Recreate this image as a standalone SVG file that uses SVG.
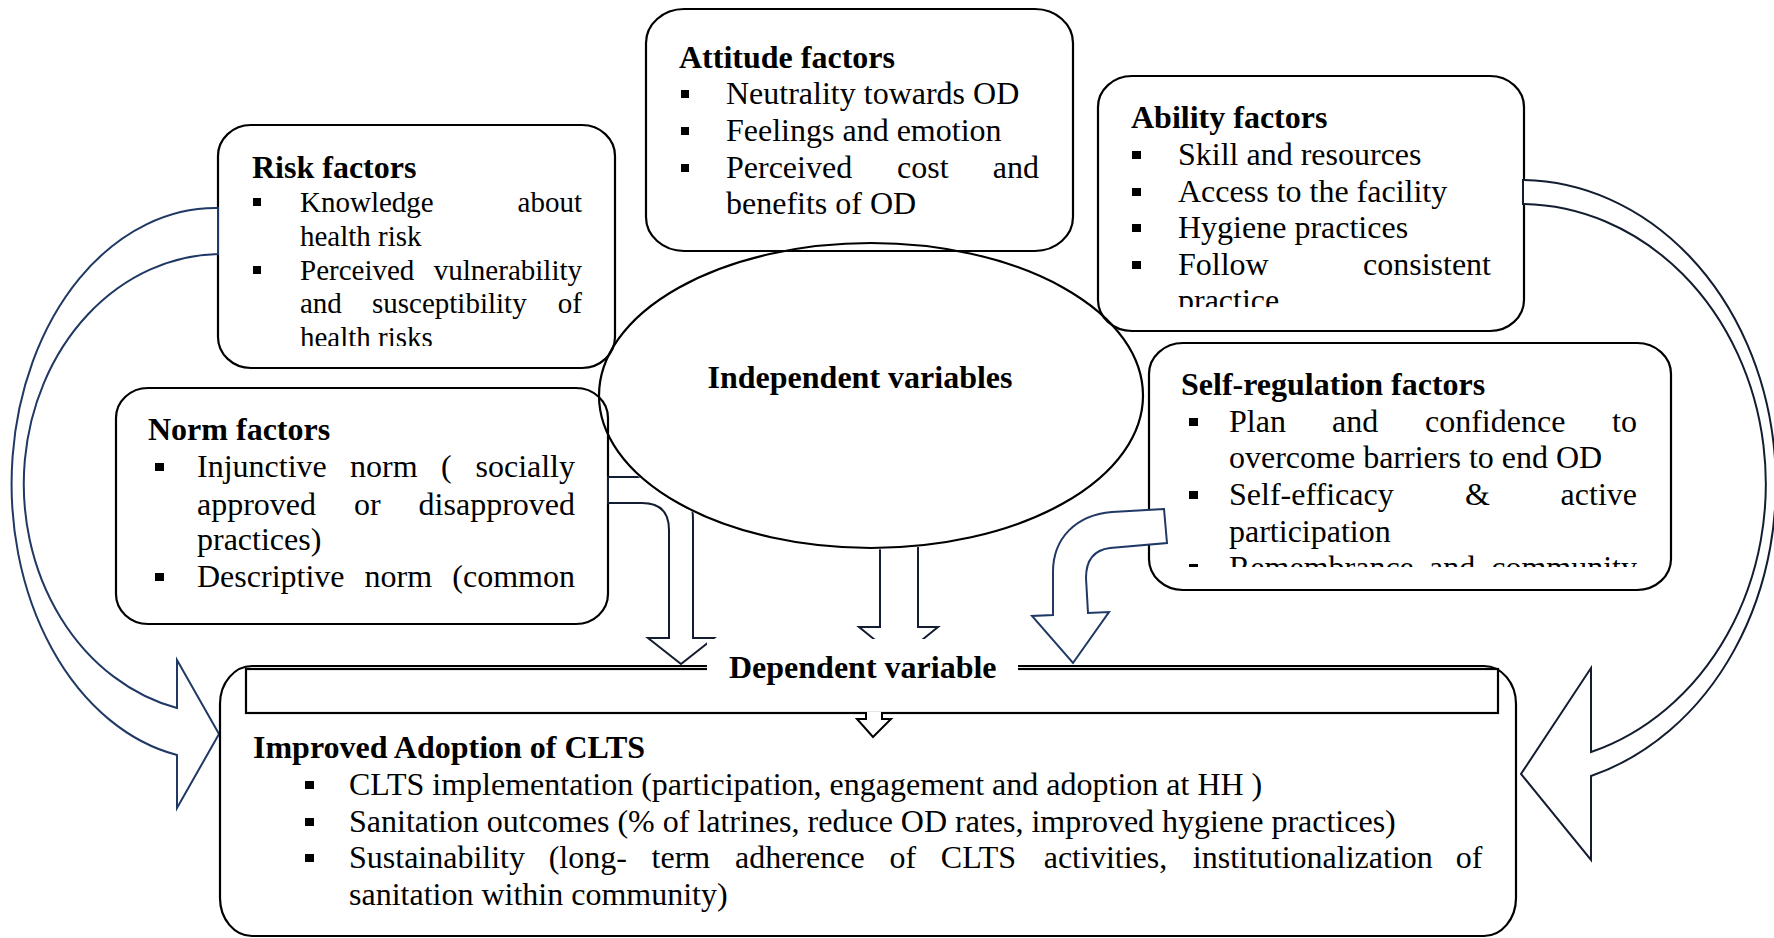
<svg xmlns="http://www.w3.org/2000/svg" width="1774" height="938" viewBox="0 0 1774 938">
<style>
.box{fill:none;stroke:#000;stroke-width:2.2}
.t{font-family:"Liberation Serif","Times New Roman",serif;font-size:32px;fill:#000}
.b{font-weight:bold}
.s29{font-size:29px}
.e{text-anchor:end}
.m{text-anchor:middle}
.bl{fill:#000}
.arr{fill:#fff;stroke:#1f3864;stroke-width:2;stroke-linejoin:miter}
.arrd{fill:#fff;stroke:#131c30;stroke-width:2;stroke-linejoin:miter}
</style>
<defs>
<clipPath id="cRisk"><rect x="218" y="125" width="397" height="221"/></clipPath>
<clipPath id="cAbility"><rect x="1098" y="76" width="426" height="231"/></clipPath>
<clipPath id="cSelf"><rect x="1149" y="343" width="522" height="224"/></clipPath>
<clipPath id="cNorm"><rect x="116" y="388" width="492" height="212"/></clipPath>
<mask id="outEll" maskUnits="userSpaceOnUse" x="0" y="0" width="1774" height="938">
<rect x="0" y="0" width="1774" height="938" fill="#fff"/>
<ellipse cx="871" cy="395.5" rx="273.5" ry="154" fill="#000"/>
</mask>
</defs>
<rect width="1774" height="938" fill="#fff"/>

<g id="independent">
<ellipse cx="871" cy="395.5" rx="272" ry="152.5" fill="#fff" stroke="#000" stroke-width="2.2"/>
<text class="t b m" x="860" y="388">Independent variables</text>
</g>

<g id="risk">
<rect class="box" x="218" y="125" width="397" height="243" rx="33" ry="31"/>
<text class="t b" x="252" y="178">Risk factors</text>
<g clip-path="url(#cRisk)">
<rect class="bl" x="253" y="198" width="8" height="8"/>
<rect class="bl" x="253" y="266" width="8" height="8"/>
<text class="t s29" x="300" y="212">Knowledge</text>
<text class="t s29 e" x="582" y="212">about</text>
<text class="t s29" x="300" y="246">health risk</text>
<text class="t s29" x="300" y="280">Perceived</text>
<text class="t s29 e" x="582" y="280">vulnerability</text>
<text class="t s29" x="300" y="313">and</text>
<text class="t s29" x="372" y="313">susceptibility</text>
<text class="t s29 e" x="582" y="313">of</text>
<text class="t s29" x="300" y="347">health risks</text>
</g>
</g>

<g id="attitude">
<rect class="box" x="646" y="9" width="427" height="242" rx="38" ry="34"/>
<text class="t b" x="679" y="68">Attitude factors</text>
<rect class="bl" x="681" y="90" width="8" height="8"/>
<rect class="bl" x="681" y="127" width="8" height="8"/>
<rect class="bl" x="681" y="164" width="8" height="8"/>
<text class="t" x="726" y="104">Neutrality towards OD</text>
<text class="t" x="726" y="141">Feelings and emotion</text>
<text class="t" x="726" y="178">Perceived</text>
<text class="t" x="897" y="178">cost</text>
<text class="t e" x="1039" y="178">and</text>
<text class="t" x="726" y="214">benefits of OD</text>
</g>

<g id="ability">
<rect class="box" x="1098" y="76" width="426" height="255" rx="34" ry="31"/>
<text class="t b" x="1131" y="128">Ability factors</text>
<g clip-path="url(#cAbility)">
<rect class="bl" x="1132" y="151" width="9" height="8"/>
<rect class="bl" x="1132" y="188" width="9" height="8"/>
<rect class="bl" x="1132" y="224" width="9" height="8"/>
<rect class="bl" x="1132" y="261" width="9" height="8"/>
<text class="t" x="1178" y="165">Skill and resources</text>
<text class="t" x="1178" y="202">Access to the facility</text>
<text class="t" x="1178" y="238">Hygiene practices</text>
<text class="t" x="1178" y="275">Follow</text>
<text class="t e" x="1491" y="275">consistent</text>
<text class="t" x="1178" y="311">practice</text>
</g>
</g>

<g id="norm">
<rect class="box" x="116" y="388" width="492" height="236" rx="32" ry="30"/>
<text class="t b" x="148" y="440">Norm factors</text>
<g clip-path="url(#cNorm)">
<rect class="bl" x="155" y="463" width="9" height="8"/>
<rect class="bl" x="155" y="573" width="9" height="8"/>
<text class="t" x="197" y="477">Injunctive</text>
<text class="t" x="350" y="477">norm</text>
<text class="t" x="441" y="477">(</text>
<text class="t e" x="575" y="477">socially</text>
<text class="t" x="197" y="515">approved</text>
<text class="t" x="354" y="515">or</text>
<text class="t e" x="575" y="515">disapproved</text>
<text class="t" x="197" y="550">practices)</text>
<text class="t" x="197" y="587">Descriptive</text>
<text class="t" x="364.6" y="587">norm</text>
<text class="t e" x="575" y="587">(common</text>
</g>
</g>

<g id="selfregulation">
<rect class="box" x="1149" y="343" width="522" height="247" rx="34" ry="31"/>
<text class="t b" x="1181" y="395">Self-regulation factors</text>
<g clip-path="url(#cSelf)">
<rect class="bl" x="1189" y="418" width="9" height="8"/>
<rect class="bl" x="1189" y="491" width="9" height="8"/>
<rect class="bl" x="1189" y="564" width="9" height="8"/>
<text class="t" x="1229" y="432">Plan</text>
<text class="t" x="1332" y="432">and</text>
<text class="t" x="1425" y="432">confidence</text>
<text class="t e" x="1637" y="432">to</text>
<text class="t" x="1229" y="468">overcome barriers to end OD</text>
<text class="t" x="1229" y="505">Self-efficacy</text>
<text class="t" x="1465" y="505">&amp;</text>
<text class="t e" x="1637" y="505">active</text>
<text class="t" x="1229" y="542">participation</text>
<text class="t" x="1229" y="578">Remembrance</text>
<text class="t" x="1429" y="578">and</text>
<text class="t e" x="1637" y="578">community</text>
</g>
</g>

<g id="connectors">
<path id="arrow-risk" class="arr" d="M218,208 A204,276 0 0,0 177,755 L177,808 L219,734 L177,660 L177,708 A198,230 0 0,1 218,254 Z"/>
<path id="arrow-ability" class="arrd" d="M1523,180 A256,304 0 0,1 1591,776 L1591,860 L1521,774 L1591,668 L1591,752 A246,280 0 0,0 1523,204 Z"/>
<path id="arrow-selfreg" class="arr" d="M1164,509 L1112,512 C1076,515 1053,538 1053,572 L1053,615 L1032,616 L1073,663 L1109,612 L1088,613 L1086,578 C1086,560 1094,550 1110,548 L1167,543 Z"/>
<path id="arrow-norm" class="arrd" mask="url(#outEll)" d="M608,477 L650,477 Q693,477 693,520 L693,638 L714,638 L681,664 L648,638 L669,638 L669,530 Q669,503 642,503 L608,503 Z"/>
<path id="arrow-independent" class="arrd" mask="url(#outEll)" d="M880,535 L880,627 L859,627 L898.5,659 L938,627 L918,627 L918,535 Z"/>
</g>

<g id="dependent">
<rect class="box" x="220" y="666" width="1296" height="270" rx="32" ry="38"/>
<rect class="box" x="246" y="669" width="1252" height="44"/>
<path d="M866,712 V719 H857 L873,737 L891,719 H882 V712" fill="#fff" stroke="#000" stroke-width="2"/>
<rect x="707" y="639" width="311" height="58" fill="#fff"/>
<text class="t b" x="729" y="678">Dependent variable</text>
<text class="t b" x="253" y="758">Improved Adoption of CLTS</text>
<rect class="bl" x="305" y="781" width="9" height="8"/>
<rect class="bl" x="305" y="818" width="9" height="8"/>
<rect class="bl" x="305" y="854" width="9" height="8"/>
<text class="t" x="349" y="795">CLTS implementation (participation, engagement and adoption at HH )</text>
<text class="t" x="349" y="832">Sanitation outcomes (% of latrines, reduce OD rates, improved hygiene practices)</text>
<text class="t" x="349" y="868">Sustainability</text>
<text class="t" x="548.7" y="868">(long-</text>
<text class="t" x="651.6" y="868">term</text>
<text class="t" x="735" y="868">adherence</text>
<text class="t" x="889.4" y="868">of</text>
<text class="t" x="940.8" y="868">CLTS</text>
<text class="t" x="1043.7" y="868">activities,</text>
<text class="t" x="1192.8" y="868">institutionalization</text>
<text class="t e" x="1482.5" y="868">of</text>
<text class="t" x="349" y="905">sanitation within community)</text>
</g>
</svg>
